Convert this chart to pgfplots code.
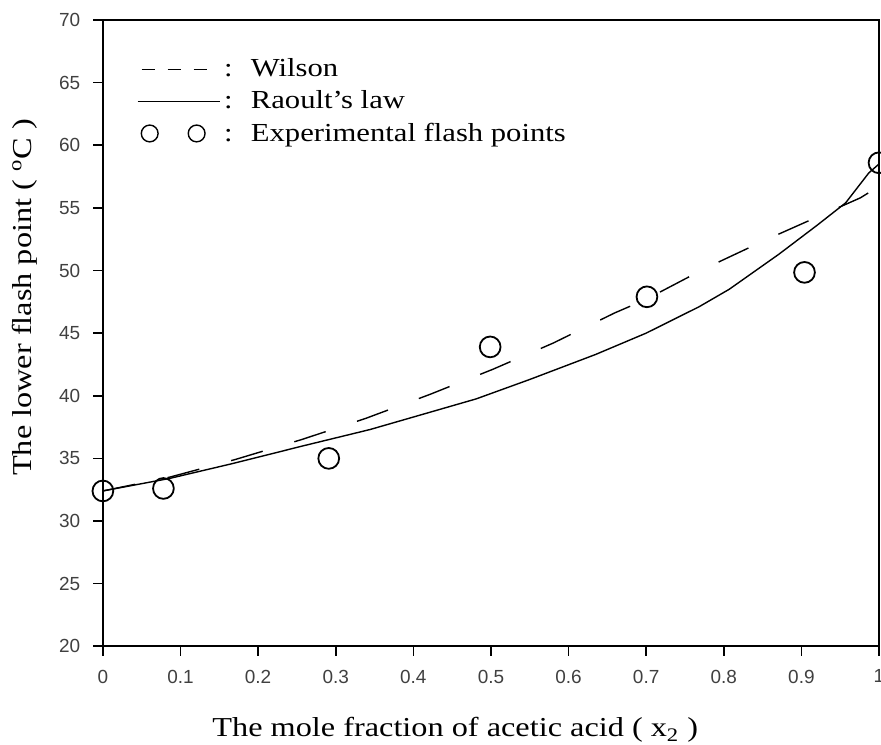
\documentclass[border=0pt]{standalone}
\usepackage{fontspec}
\setmainfont{Liberation Serif}[FakeStretch=1.18]
\setsansfont{Liberation Sans}
\usepackage{pgfplots}
\pgfplotsset{compat=1.18}
\begin{document}
\begin{tikzpicture}
\begin{axis}[
  scale only axis, width=388.5pt, height=313.5pt,
  xmin=0, xmax=1, ymin=20, ymax=70,
  xtick={0,0.1,...,1}, ytick={20,25,...,70},
  tick align=outside, xtick pos=left, ytick pos=left,
  major tick length=4.8pt,
  axis line style={line width=0.9pt}, tick style={line width=0.8pt, black},
  /pgf/number format/assume math mode=true,
  tick label style={font=\sffamily\fontsize{9.5}{10}\selectfont, text=black!75},
  xticklabel style={yshift=-3.5pt},
  yticklabel style={xshift=-3pt},
  xlabel={The mole fraction of acetic acid ( x\textsubscript{2} )},
  ylabel={The lower flash point ( \textsuperscript{o}C )},
  label style={font=\fontsize{13.7}{15}\selectfont},
  x label style={at={(axis description cs:0.454,0)}, anchor=center, yshift=-42pt},
  y label style={at={(axis description cs:-0.1004,0.557)}, anchor=center},
  legend style={at={(axis description cs:0.0436,0.945)}, anchor=north west,
                draw=none, fill=none, inner sep=0pt, row sep=1.5pt,
                font=\fontsize{13}{14}\selectfont},
  legend cell align=left,
]
\addplot[black, line width=0.7pt, dash pattern=on 16.5pt off 16.5pt,
  legend image code/.code={\draw[black, line width=0.6pt, dash pattern=on 6.5pt off 6.5pt] (0pt,0pt) -- (36pt,0pt);}]
  coordinates {(0,32.4) (0.086,33.5) (0.17,34.9) (0.256,36.5) (0.339,38.2)
    (0.421,40.1) (0.502,42.1) (0.58,44.2) (0.659,46.6) (0.70,47.7)
    (0.777,50.2) (0.856,52.5) (0.936,54.7) (0.976,55.8) (0.989,56.3)
    (0.993,57.8) (1,58.5)};
\addlegendentry{:\hspace{0.7em}Wilson}
\addplot[black, line width=0.7pt,
  legend image code/.code={\draw[black, line width=0.6pt] (-2pt,0pt) -- (39pt,0pt);}]
  coordinates {(0,32.4) (0.086,33.4) (0.168,34.6) (0.258,36.0) (0.344,37.3)
    (0.4,38.3) (0.481,39.75) (0.55,41.3) (0.635,43.3) (0.7,45.0)
    (0.768,47.1) (0.807,48.5) (0.871,51.3) (0.92,53.6) (0.957,55.4)
    (0.987,57.8) (1,58.5)};
\addlegendentry{:\hspace{0.7em}Raoult's law}
\addplot[only marks, mark=o, mark size=5.2pt, black, line width=0.9pt,
  legend image code/.code={\draw[mark size=4.2pt, line width=0.7pt] plot[only marks, mark=o] coordinates {(4pt,0pt) (27.5pt,0pt)};}]
  coordinates {(0,32.4) (0.078,32.6) (0.291,35.0) (0.499,43.9)
    (0.701,47.9) (0.904,49.85) (1,58.6)};
\addlegendentry{:\hspace{0.7em}Experimental flash points}
\end{axis}
\pgfresetboundingbox
\path ([shift={(-51.5pt,-49pt)}]current axis.south west) rectangle ([shift={(1pt,10pt)}]current axis.north east);
\end{tikzpicture}
\end{document}
